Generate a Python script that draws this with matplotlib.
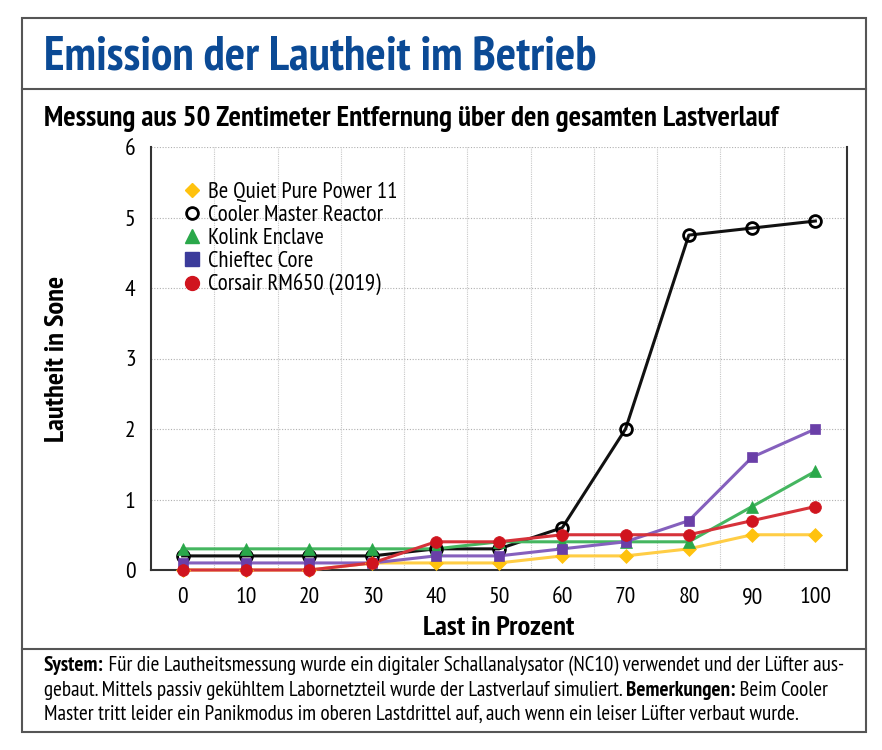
import matplotlib
matplotlib.use("Agg")
import matplotlib.pyplot as plt
from matplotlib.lines import Line2D
from matplotlib.patches import Rectangle

FONTS = ['PT Sans Narrow', 'Roboto Condensed', 'Sofia Sans Condensed', 'Liberation Sans Narrow',
         'Liberation Sans', 'DejaVu Sans']
plt.rcParams['font.family'] = FONTS

# ---------------- data ----------------
load = [0, 10, 20, 30, 40, 50, 60, 70, 80, 90, 100]
be_quiet = [0.0, 0.0, 0.0, 0.1, 0.1, 0.1, 0.2, 0.2, 0.3, 0.5, 0.5]
cooler_master = [0.2, 0.2, 0.2, 0.2, 0.3, 0.3, 0.6, 2.0, 4.75, 4.85, 4.95]
kolink = [0.3, 0.3, 0.3, 0.3, 0.3, 0.4, 0.4, 0.4, 0.4, 0.9, 1.4]
chieftec = [0.1, 0.1, 0.1, 0.1, 0.2, 0.2, 0.3, 0.4, 0.7, 1.6, 2.0]
corsair = [0.0, 0.0, 0.0, 0.1, 0.4, 0.4, 0.5, 0.5, 0.5, 0.7, 0.9]
series_names = ["Be Quiet Pure Power 11", "Cooler Master Reactor", "Kolink Enclave",
                "Chieftec Core", "Corsair RM650 (2019)"]
y_ticks = [0, 1, 2, 3, 4, 5, 6]

title = "Emission der Lautheit im Betrieb"
subtitle = "Messung aus 50 Zentimeter Entfernung über den gesamten Lastverlauf"
xlabel = "Last in Prozent"
ylabel = "Lautheit in Sone"
footer_lines = [
    [("System:", True), (" Für die Lautheitsmessung wurde ein digitaler Schallanalysator (NC10) verwendet und der Lüfter aus-", False)],
    [("gebaut. Mittels passiv gekühltem Labornetzteil wurde der Lastverlauf simuliert. ", False), ("Bemerkungen:", True), (" Beim Cooler", False)],
    [("Master tritt leider ein Panikmodus im oberen Lastdrittel auf, auch wenn ein leiser Lüfter verbaut wurde.", False)],
]

W, H = 882, 750
fig = plt.figure(figsize=(W / 100, H / 100), dpi=100)
fig.canvas.draw()
renderer = fig.canvas.get_renderer()

def fx(px):
    return px / W

def fy(py):
    return 1 - py / H

def fit_text(x, y, s, target_w, size, **kw):
    t = fig.text(fx(x), fy(y), s, fontsize=size, **kw)
    w = t.get_window_extent(renderer=renderer).width
    t.set_fontsize(size * target_w / w)
    return t

# frame
border = '#555555'
fig.patches.append(Rectangle((fx(22), fy(732)), fx(866) - fx(22), fy(18) - fy(732),
                             transform=fig.transFigure, fill=False, edgecolor=border, lw=1.5))
fig.add_artist(Line2D([fx(22), fx(866)], [fy(89), fy(89)], transform=fig.transFigure,
                      color=border, lw=1.5))
fig.add_artist(Line2D([fx(22), fx(866)], [fy(649), fy(649)], transform=fig.transFigure,
                      color=border, lw=1.5))

fit_text(44, 69, title, 552, 28, color='#0b4a95', fontweight='bold', va='baseline', ha='left')
fit_text(44, 126, subtitle, 733, 17, color='black', fontweight='bold', va='baseline', ha='left')

ax = fig.add_axes([fx(151), fy(570), fx(847) - fx(151), fy(147) - fy(570)])

styles = [
    (be_quiet, '#ffc20e', '#ffcd45', 'D', 7.5, '#ffc20e'),
    (cooler_master, 'black', '#111111', 'o', 8.5, 'none'),
    (kolink, '#2aa84a', '#45b660', '^', 8.5, '#2aa84a'),
    (chieftec, '#6a3fa8', '#8560bd', 's', 7.5, '#6a3fa8'),
    (corsair, '#d0141e', '#d6323a', 'o', 8.5, '#d0141e'),
]
for (vals, mc, lc, mk, ms, fc) in styles:
    ax.plot(load, vals, color=lc, lw=2.2, zorder=3, clip_on=False)
    ax.plot(load, vals, ls='none', marker=mk, markersize=ms, markerfacecolor=fc,
            markeredgecolor=mc, markeredgewidth=2 if fc == 'none' else 0.5, zorder=4,
            clip_on=False)

ax.set_xlim(-5, 105)
ax.set_ylim(0, 6)
ax.set_xticks(load)
ax.set_xticklabels([str(v) for v in load])
ax.set_yticks(y_ticks)
ax.set_yticklabels([str(v) for v in y_ticks])
ax.tick_params(axis='both', which='both', length=0, labelsize=17)
ax.tick_params(axis='x', pad=12)
ax.tick_params(axis='y', pad=11)
ax.grid(False)
for yv in y_ticks[1:]:
    ax.axhline(yv, color='#b0b0b0', lw=0.8, ls=(0, (1, 1.5)), zorder=1)
for xv in [v + 5 for v in load[:-1]]:
    ax.axvline(xv, color='#c8c8c8', lw=0.8, ls=(0, (1, 1)), zorder=1)
for s in ['left', 'right', 'bottom']:
    ax.spines[s].set_color('#333333')
    ax.spines[s].set_linewidth(1.5)
ax.spines['top'].set_visible(False)

ax.set_xlabel(xlabel, fontsize=20.5, fontweight='bold', labelpad=6)
ax.set_ylabel(ylabel, fontsize=20.5, fontweight='bold', labelpad=40)

handles = [
    Line2D([], [], ls='none', marker='D', markersize=7.5, markerfacecolor='#ffc20e', markeredgecolor='#ffc20e'),
    Line2D([], [], ls='none', marker='o', markersize=8.5, markerfacecolor='none', markeredgecolor='black', markeredgewidth=2),
    Line2D([], [], ls='none', marker='^', markersize=10, markerfacecolor='#2aa84a', markeredgecolor='#2aa84a'),
    Line2D([], [], ls='none', marker='s', markersize=10, markerfacecolor='#3b3b9b', markeredgecolor='#3b3b9b'),
    Line2D([], [], ls='none', marker='o', markersize=10, markerfacecolor='#d0141e', markeredgecolor='#d0141e'),
]
leg = ax.legend(handles, series_names, loc='upper left', bbox_to_anchor=(0.034, 0.94),
                frameon=False, fontsize=16.5, handlelength=0.7, handletextpad=0.35,
                labelspacing=0.09, borderaxespad=0)

# footer with mixed bold text, fitted so line 1 spans the reference width
fs = 13
probe = [fig.text(0, 0, txt, fontsize=fs, fontweight='bold' if b else 'normal')
         for txt, b in footer_lines[0]]
wsum = sum(p.get_window_extent(renderer=renderer).width for p in probe)
for p in probe:
    p.remove()
fs = fs * 793 / wsum
baselines = [671, 696, 720]
for parts, by in zip(footer_lines, baselines):
    xpx = 44
    for txt, bold in parts:
        t = fig.text(fx(xpx), fy(by), txt, fontsize=fs, fontweight='bold' if bold else 'normal',
                     va='baseline', ha='left')
        xpx += t.get_window_extent(renderer=renderer).width

fig.savefig("out.png", dpi=100)
